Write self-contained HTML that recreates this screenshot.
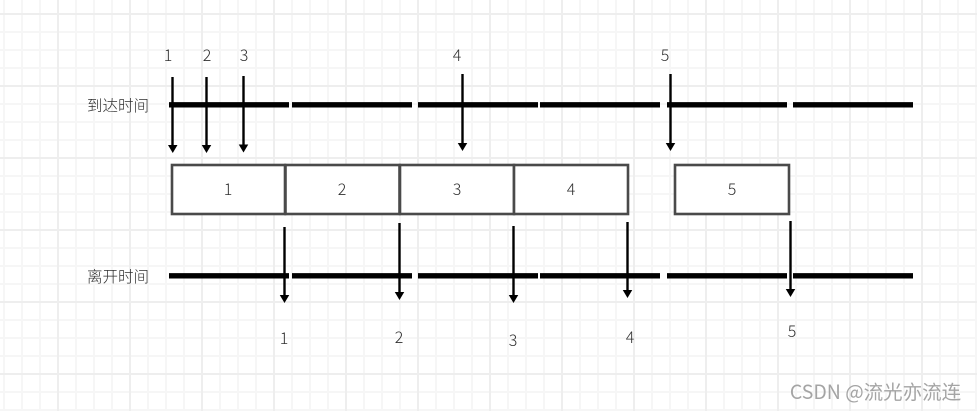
<!DOCTYPE html>
<html><head><meta charset="utf-8">
<style>
html,body{margin:0;padding:0;background:#fff;width:977px;height:411px;overflow:hidden}
svg{display:block}
text{font-family:"Noto Sans CJK SC","Liberation Sans",sans-serif;font-size:16px;font-weight:300;fill:#2e2e2e;text-anchor:middle}
.l{font-size:15.500px}
.d{stroke:#000;stroke-width:2.400}
.t{stroke:#000;stroke-width:5.400}
.b{fill:#fff;stroke:#4a4a4a;stroke-width:2.600}
</style></head><body>
<svg width="977" height="411" viewBox="0 0 977 411" xmlns="http://www.w3.org/2000/svg">
<defs>
<pattern id="g" x="3" y="13" width="18" height="18" patternUnits="userSpaceOnUse"><path d="M1 0V18M0 1H18" stroke="#f6f6f6" stroke-width="2" fill="none"/></pattern>
<pattern id="M" x="57" y="13" width="72" height="72" patternUnits="userSpaceOnUse"><path d="M1 0V72M0 1H72" stroke="#eeeeee" stroke-width="2" fill="none"/></pattern>
</defs>
<rect width="977" height="411" fill="#fff"/>
<rect width="977" height="411" fill="url(#g)"/>
<rect width="977" height="411" fill="url(#M)"/>
<!-- time axes -->
<path class="t" d="M169 104.800H289M292 104.800H412M418 104.800H538M540 104.800H660M667 104.800H787M793 104.800H913"/>
<path class="t" d="M169 275.800H289M292 275.800H412M418 275.800H538M540 275.800H660M667 275.800H787M793 275.800H913"/>
<!-- boxes -->
<rect class="b" x="172" y="165" width="113" height="49"/>
<rect class="b" x="285.500" y="165" width="114" height="49"/>
<rect class="b" x="400" y="165" width="114" height="49"/>
<rect class="b" x="514" y="165" width="114" height="49"/>
<rect class="b" x="675" y="165" width="114" height="49"/>
<!-- arrows top -->
<path class="d" d="M172.500 77V146M206.500 77V146M243.500 76V145M462.500 74V144M670.500 74V144"/>
<path d="M168 145h9.500l-4.750 8zM201.750 145h9.500l-4.750 8zM238.750 144.500h9.500l-4.750 8zM457.750 143h9.500l-4.750 8zM665.750 143h9.500l-4.750 8z" fill="#000"/>
<!-- arrows bottom -->
<path stroke="#fff" stroke-width="5" d="M790.500 268V276"/>
<path class="d" d="M284.500 227V296M399.500 223V293M513.500 226V296M627.500 222V291M790.500 221V290"/>
<path d="M279.750 295h9.500l-4.750 8zM394.750 292h9.500l-4.750 8zM508.750 295h9.500l-4.750 8zM622.750 290h9.500l-4.750 8zM785.750 289h9.500l-4.750 8z" fill="#000"/>
<!-- labels -->
<text x="168" y="61">1</text>
<text x="207" y="61">2</text>
<text x="244" y="61">3</text>
<text x="457" y="61">4</text>
<text x="665" y="61">5</text>
<text class="l" x="118" y="111">到达时间</text>
<text class="l" x="118" y="282">离开时间</text>
<text x="228" y="195">1</text>
<text x="342" y="195">2</text>
<text x="457" y="195">3</text>
<text x="571" y="195">4</text>
<text x="732" y="195">5</text>
<text x="284" y="344">1</text>
<text x="399" y="343">2</text>
<text x="513" y="346">3</text>
<text x="630" y="343">4</text>
<text x="792" y="337">5</text>
<text x="875.500" y="399" style="font-size:19.500px;font-weight:400;fill:#a4a4a4">CSDN @流光亦流连</text>
</svg>
</body></html>
